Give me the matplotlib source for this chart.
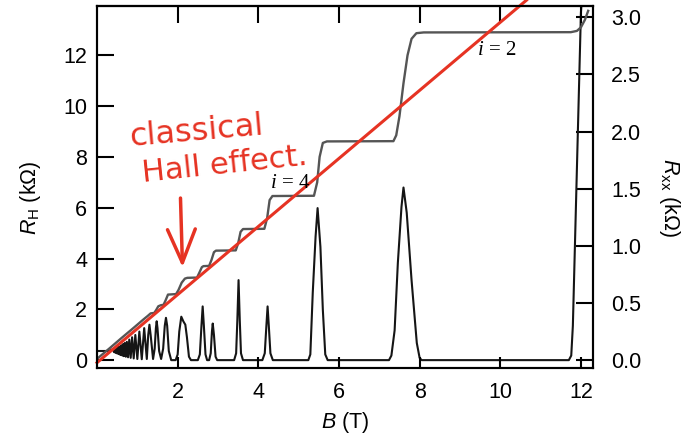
import matplotlib
matplotlib.use('Agg')
import matplotlib.pyplot as plt

plt.rcParams['font.family'] = ['Liberation Sans', 'DejaVu Sans']
plt.rcParams['mathtext.fontset'] = 'custom'
plt.rcParams['mathtext.rm'] = 'Liberation Sans'
plt.rcParams['mathtext.it'] = 'Liberation Sans:italic'
plt.rcParams['mathtext.sf'] = 'Liberation Serif:italic'

# Hall resistance R_H (kOhm) vs B (T)
rh_B = [0.00, 0.30, 0.60, 0.90, 1.15, 1.25, 1.33, 1.42, 1.47, 1.52, 1.58, 1.65,
        1.70, 1.76, 1.96, 2.02, 2.10, 2.18, 2.24, 2.48, 2.54, 2.60, 2.64, 2.78,
        2.84, 2.90, 2.95, 3.44, 3.50, 3.56, 3.62, 4.15, 4.22, 4.28, 4.35, 5.38,
        5.46, 5.52, 5.60, 5.70, 7.35, 7.42, 7.50, 7.60, 7.70, 7.80, 7.92, 8.10,
        11.75, 11.90, 12.00, 12.10, 12.18]
rh_val = [0.05, 0.45, 0.86, 1.26, 1.60, 1.73, 1.84, 1.86, 1.98, 2.12, 2.16, 2.18,
          2.35, 2.58, 2.60, 2.76, 3.05, 3.21, 3.24, 3.25, 3.45, 3.66, 3.70, 3.71,
          3.95, 4.25, 4.31, 4.32, 4.60, 5.05, 5.16, 5.17, 5.60, 6.30, 6.46, 6.47,
          7.00, 8.00, 8.55, 8.61, 8.62, 8.85, 9.60, 10.90, 12.00, 12.65, 12.87, 12.90,
          12.91, 12.96, 13.10, 13.40, 13.75]

# longitudinal resistance R_xx (kOhm) vs B (T)
rxx_B = [0.05, 0.30, 0.35, 0.40, 0.42, 0.44, 0.455, 0.47, 0.49, 0.51, 0.525, 0.54,
         0.56, 0.575, 0.59, 0.61, 0.63, 0.645, 0.665, 0.69, 0.715, 0.74, 0.77, 0.80,
         0.835, 0.87, 0.91, 0.95, 1.00, 1.05, 1.11, 1.17, 1.235, 1.27, 1.30, 1.33,
         1.39, 1.43, 1.46, 1.48, 1.50, 1.54, 1.59, 1.64, 1.68, 1.71, 1.74, 1.78,
         1.84, 1.95, 2.00, 2.04, 2.09, 2.14, 2.19, 2.23, 2.28, 2.33, 2.50, 2.55,
         2.59, 2.62, 2.65, 2.69, 2.73, 2.78, 2.82, 2.85, 2.87, 2.90, 2.94, 2.98,
         3.40, 3.45, 3.48, 3.51, 3.54, 3.57, 3.62, 4.10, 4.16, 4.20, 4.23, 4.26,
         4.30, 4.36, 5.24, 5.29, 5.35, 5.42, 5.47, 5.54, 5.60, 5.66, 5.72, 7.24,
         7.30, 7.38, 7.46, 7.55, 7.60, 7.68, 7.80, 7.93, 8.00, 8.05, 11.70, 11.76,
         11.80, 12.00, 12.05]
rxx_val = [0.08, 0.08, 0.09, 0.095, 0.07, 0.10, 0.065, 0.105, 0.06, 0.11, 0.055, 0.115,
           0.05, 0.12, 0.045, 0.13, 0.04, 0.14, 0.035, 0.15, 0.03, 0.16, 0.025, 0.18,
           0.02, 0.20, 0.015, 0.22, 0.01, 0.25, 0.008, 0.28, 0.01, 0.22, 0.31, 0.22,
           0.01, 0.10, 0.28, 0.34, 0.28, 0.08, 0.01, 0.10, 0.30, 0.37, 0.30, 0.08,
           0.00, 0.00, 0.05, 0.25, 0.38, 0.34, 0.31, 0.20, 0.03, 0.00, 0.00, 0.05,
           0.30, 0.47, 0.30, 0.05, 0.00, 0.00, 0.06, 0.25, 0.32, 0.22, 0.03, 0.00,
           0.00, 0.06, 0.35, 0.70, 0.35, 0.06, 0.00, 0.00, 0.06, 0.30, 0.47, 0.30,
           0.06, 0.00, 0.00, 0.05, 0.59, 1.08, 1.33, 0.99, 0.44, 0.05, 0.00, 0.00,
           0.04, 0.26, 0.85, 1.34, 1.51, 1.29, 0.70, 0.15, 0.02, 0.00, 0.00, 0.04,
           0.30, 3.04, 3.30]

# hand-drawn classical Hall line (end points)
classical_B = [0.0, 10.65]
classical_R = [-0.1, 14.17]

x_ticks = [2, 4, 6, 8, 10, 12]
left_ticks = [0, 2, 4, 6, 8, 10, 12]
right_ticks = [0.0, 0.5, 1.0, 1.5, 2.0, 2.5, 3.0]
right_labels = ['0.0', '0.5', '1.0', '1.5', '2.0', '2.5', '3.0']

red = '#e63323'
fs = 15.5

fig = plt.figure(figsize=(6.89, 4.42), dpi=100)
ax = fig.add_axes([0.1408, 0.1674, 0.7199, 0.8190])
ax2 = ax.twinx()
ax.set_zorder(ax2.get_zorder() + 1)
ax.patch.set_visible(False)

ax2.plot(rxx_B, rxx_val, color='#151515', lw=1.5)
ax.plot(rh_B, rh_val, color='#555555', lw=1.7)
ax.plot(classical_B, classical_R, color=red, lw=2.2, clip_on=False)

ax.set_xlim(0, 12.3)
ax.set_ylim(-0.31, 13.94)
ax2.set_ylim(-0.31 / 4.5, 13.94 / 4.5)

ax.set_xticks(x_ticks)
ax.set_yticks(left_ticks)
ax2.set_yticks(right_ticks)
ax2.set_yticklabels(right_labels)

ax.tick_params(axis='x', direction='in', length=8, width=1.5, labelsize=fs, pad=10)
ax.tick_params(axis='y', direction='in', length=12, width=1.5, labelsize=fs, pad=7)
ax2.tick_params(axis='y', direction='in', length=12, width=1.5, labelsize=fs, pad=13)

top = ax.secondary_xaxis('top')
top.set_xticks(x_ticks)
top.tick_params(direction='in', length=12, width=1.5, labeltop=False)

for a in (ax, ax2):
    for s in a.spines.values():
        s.set_linewidth(1.5)
top.spines['top'].set_linewidth(1.5)

ax.set_xlabel(r'$B$ (T)', fontsize=fs)
ax.xaxis.set_label_coords(0.5, -0.115)
ax.set_ylabel(r'$R_{\rm H}$ (kΩ)', fontsize=fs)
ax.yaxis.set_label_coords(-0.108, 0.47)
ax2.set_ylabel(r'$R_{\rm xx}$ (kΩ)', fontsize=fs, rotation=270, va='center')
ax2.yaxis.set_label_coords(1.155, 0.47)

ax.text(9.91, 12.2, r'$\mathsf{i}$ = 2', family='Liberation Serif', fontsize=15,
        ha='center', va='center')
ax.text(4.78, 6.97, r'$\mathsf{i}$ = 4', family='Liberation Serif', fontsize=15,
        ha='center', va='center')

ax.text(2.47, 8.45, 'classical', color=red, fontsize=23, family='DejaVu Sans',
        ha='center', va='baseline', rotation=5)
ax.text(3.16, 7.0, 'Hall effect.', color=red, fontsize=22, family='DejaVu Sans',
        ha='center', va='baseline', rotation=6)
ax.annotate('', xy=(2.12, 3.66), xytext=(2.07, 6.38),
            arrowprops=dict(arrowstyle='->,head_length=2.4,head_width=1.0',
                            color=red, lw=2.5, mutation_scale=10,
                            shrinkA=0, shrinkB=0))

fig.savefig('out.png', dpi=100)
